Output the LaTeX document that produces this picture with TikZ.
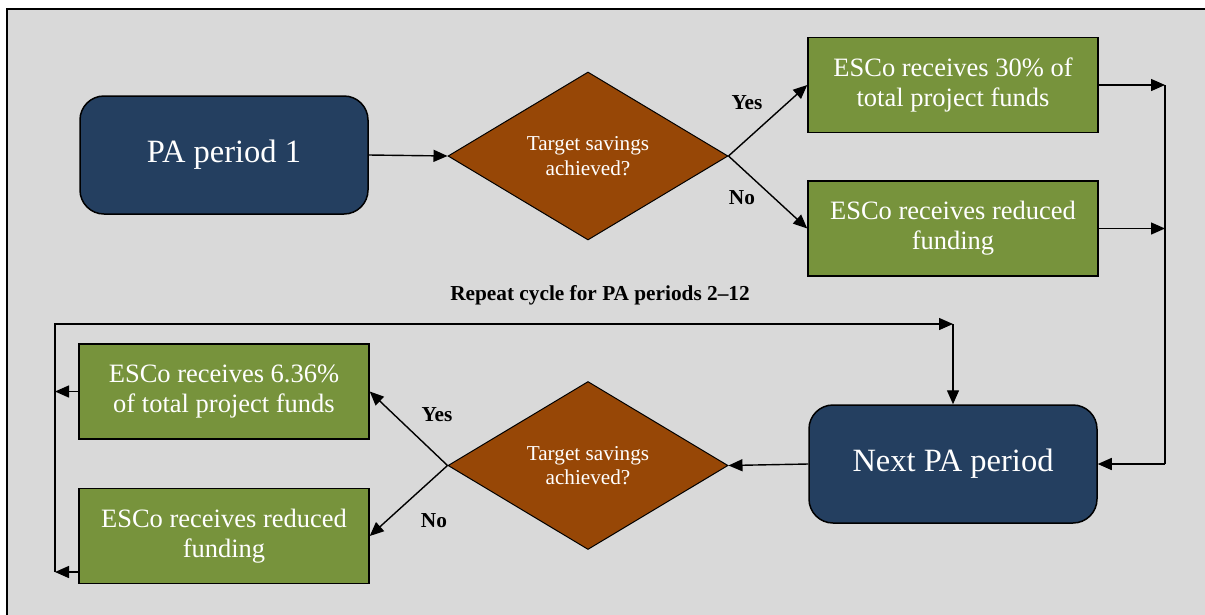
\documentclass[tikz,border=0pt]{standalone}
\usepackage{fontspec}
\setmainfont{Liberation Serif}
\usetikzlibrary{shapes.geometric,arrows.meta}
\definecolor{navy}{HTML}{243F60}
\definecolor{rust}{HTML}{974706}
\definecolor{olive}{HTML}{77933C}
\definecolor{bggray}{HTML}{D9D9D9}
\begin{document}
\begin{tikzpicture}[x=1pt,y=-1pt,
  pabox/.style={draw=black,line width=1.5pt,fill=navy,rounded corners=24pt,
    minimum width=288pt,minimum height=118pt,inner sep=0pt,text=white,
    font=\fontsize{32.5}{38}\selectfont},
  decision/.style={diamond,aspect=1.667,draw=black,line width=1pt,fill=rust,
    minimum width=280pt,minimum height=168pt,inner sep=0pt,text=white,align=center,
    font=\fontsize{21.2}{24.5}\selectfont},
  outcome/.style={draw=black,line width=1.5pt,fill=olive,minimum width=290pt,
    minimum height=95pt,inner sep=0pt,text=white,align=center,
    font=\fontsize{26.5}{30}\selectfont},
  lbl/.style={font=\bfseries\fontsize{21.3}{24}\selectfont,inner sep=0pt},
  arr/.style={line width=1.4pt,-{Triangle[length=14pt,width=12pt]}},
  ln/.style={line width=1.4pt}]
\useasboundingbox (0,0) rectangle (1205,614);
\fill[white] (0,0) rectangle (1205,614);
\fill[bggray] (7,9) rectangle (1220,630);
\draw[line width=2pt] (1220,9) -- (7,9) -- (7,630);

\node[pabox] (pa1) at (224,155) {PA period 1};
\node[decision] (d1) at (588,156) {Target savings\\achieved?};
\node[outcome] (g1) at (953,85) {ESCo receives 30\% of\\total project funds};
\node[outcome] (g2) at (953,228.5) {ESCo receives reduced\\funding};
\node[pabox] (next) at (953,464) {Next PA period};
\node[decision] (d2) at (588,465.5) {Target savings\\achieved?};
\node[outcome] (g3) at (224,391.5) {ESCo receives 6.36\%\\of total project funds};
\node[outcome] (g4) at (224,536) {ESCo receives reduced\\funding};

\node[lbl] (yes1) at (747,103) {Yes};
\node[lbl] (no1) at (742,198) {No};
\node[lbl] (yes2) at (437,415) {Yes};
\node[lbl] (no2) at (434,521) {No};
\node[lbl] (rep) at (600,295) {Repeat cycle for PA periods 2–12};

\coordinate (r1) at (1165,85);
\coordinate (r2) at (1165,228.5);
\coordinate (r3) at (1165,464);
\coordinate (l1) at (55,391.5);
\coordinate (l2) at (55,572);
\coordinate (l0) at (55,324);
\coordinate (t1) at (953,324);

\draw[arr] (pa1.east) -- (d1.west);
\draw[arr] (d1.east) -- (g1.west);
\draw[arr] (d1.east) -- (g2.west);
\draw[arr] (g1.east) -- (r1);
\draw[arr] (g2.east) -- (r2);
\draw[ln] (r1) -- (r3);
\draw[arr] (r3) -- (next.east);
\draw[arr] (next.west) -- (d2.east);
\draw[arr] (d2.west) -- (g3.east);
\draw[arr] (d2.west) -- (g4.east);
\draw[arr] (g3.west) -- (l1);
\draw[arr] (l2 -| g4.west) -- (l2);
\draw[arr] (l2) -- (l0) -- (t1);
\draw[arr] (t1) -- (next.north);
\end{tikzpicture}
\end{document}
